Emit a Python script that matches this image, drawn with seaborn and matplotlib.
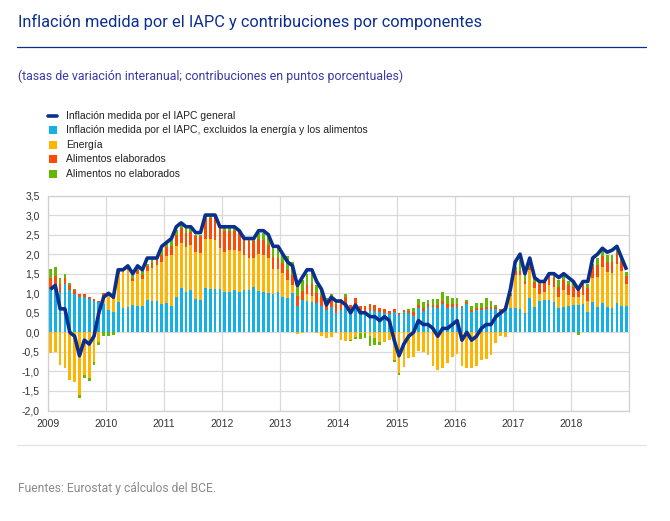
import numpy as np
import pandas as pd
import matplotlib
matplotlib.use("Agg")
import matplotlib.pyplot as plt
from matplotlib.patches import Rectangle
from matplotlib.lines import Line2D
import seaborn as sns

# ---------------- data (monthly, Jan 2009 - Dec 2018) ----------------
years = ["2009", "2010", "2011", "2012", "2013", "2014", "2015", "2016", "2017", "2018"]

headline = [
    1.1, 1.2, 0.6, 0.6, 0.0, -0.1, -0.6, -0.2, -0.3, -0.1, 0.5, 0.9,
    1.0, 0.9, 1.6, 1.6, 1.7, 1.5, 1.7, 1.6, 1.9, 1.9, 1.9, 2.2,
    2.3, 2.4, 2.7, 2.8, 2.7, 2.7, 2.55, 2.55, 3.0, 3.0, 3.0, 2.7,
    2.7, 2.7, 2.7, 2.6, 2.4, 2.4, 2.4, 2.6, 2.6, 2.5, 2.2, 2.2,
    2.0, 1.8, 1.7, 1.2, 1.4, 1.6, 1.6, 1.3, 1.1, 0.7, 0.9, 0.8,
    0.8, 0.7, 0.5, 0.7, 0.5, 0.5, 0.4, 0.4, 0.3, 0.4, 0.3, -0.2,
    -0.6, -0.3, -0.1, 0.0, 0.3, 0.2, 0.2, 0.1, -0.1, 0.1, 0.1, 0.2,
    0.3, -0.2, 0.0, -0.2, -0.1, 0.1, 0.2, 0.2, 0.4, 0.5, 0.6, 1.1,
    1.8, 2.0, 1.5, 1.9, 1.4, 1.3, 1.3, 1.5, 1.5, 1.4, 1.5, 1.4,
    1.3, 1.1, 1.3, 1.3, 1.9, 2.0, 2.15, 2.05, 2.1, 2.2, 1.9, 1.6,
]

core = [
    1.10, 1.15, 1.02, 1.23, 1.08, 0.97, 0.91, 0.91, 0.85, 0.80, 0.77, 0.72,
    0.57, 0.53, 0.78, 0.61, 0.66, 0.70, 0.67, 0.67, 0.82, 0.80, 0.80, 0.72,
    0.74, 0.68, 0.90, 1.13, 1.04, 1.08, 0.84, 0.83, 1.13, 1.12, 1.10, 1.12,
    1.04, 1.04, 1.08, 1.04, 1.08, 1.08, 1.17, 1.06, 1.02, 1.01, 0.98, 1.03,
    0.91, 0.87, 1.00, 0.67, 0.82, 0.80, 0.77, 0.75, 0.68, 0.57, 0.65, 0.50,
    0.57, 0.68, 0.53, 0.70, 0.49, 0.53, 0.55, 0.55, 0.51, 0.49, 0.46, 0.53,
    0.44, 0.51, 0.49, 0.43, 0.61, 0.55, 0.65, 0.65, 0.61, 0.72, 0.63, 0.66,
    0.66, 0.61, 0.72, 0.53, 0.57, 0.58, 0.60, 0.60, 0.60, 0.55, 0.61, 0.61,
    0.61, 0.60, 0.49, 0.87, 0.66, 0.80, 0.83, 0.83, 0.78, 0.61, 0.66, 0.67,
    0.70, 0.70, 0.72, 0.53, 0.78, 0.66, 0.76, 0.66, 0.63, 0.76, 0.68, 0.68,
]

energy = [
    -0.52, -0.50, -0.84, -0.90, -1.22, -1.26, -1.60, -1.09, -1.16, -0.75, -0.25, 0.20,
    0.36, 0.31, 0.72, 0.95, 0.93, 0.61, 0.83, 0.70, 0.75, 0.84, 0.92, 1.09,
    1.22, 1.30, 1.31, 1.16, 1.13, 1.15, 1.21, 1.19, 1.27, 1.28, 1.26, 1.03,
    1.02, 1.07, 1.03, 1.03, 0.90, 0.82, 0.74, 0.95, 0.97, 0.89, 0.65, 0.60,
    0.60, 0.47, 0.21, -0.05, -0.02, 0.18, 0.16, -0.03, -0.09, -0.15, -0.12, -0.02,
    -0.20, -0.22, -0.20, -0.12, -0.03, -0.02, -0.10, -0.15, -0.26, -0.24, -0.20, -0.71,
    -1.03, -0.88, -0.65, -0.62, -0.49, -0.51, -0.58, -0.85, -0.96, -0.92, -0.78, -0.62,
    -0.55, -0.85, -0.92, -0.92, -0.85, -0.70, -0.69, -0.58, -0.28, -0.09, -0.11, 0.31,
    0.85, 0.87, 0.74, 0.72, 0.47, 0.17, 0.21, 0.38, 0.38, 0.30, 0.43, 0.28,
    0.21, 0.21, 0.24, 0.26, 0.61, 0.76, 0.90, 0.88, 0.90, 1.00, 0.89, 0.55,
]

processed_food = [
    0.30, 0.30, 0.22, 0.15, 0.12, 0.10, 0.08, 0.07, 0.05, 0.04, 0.04, 0.08,
    0.07, 0.06, 0.06, 0.06, 0.07, 0.08, 0.09, 0.10, 0.12, 0.14, 0.13, 0.17,
    0.21, 0.24, 0.29, 0.37, 0.36, 0.33, 0.41, 0.45, 0.50, 0.52, 0.56, 0.52,
    0.53, 0.49, 0.47, 0.46, 0.43, 0.44, 0.43, 0.37, 0.38, 0.33, 0.29, 0.27,
    0.26, 0.26, 0.26, 0.26, 0.24, 0.23, 0.30, 0.25, 0.24, 0.22, 0.23, 0.23,
    0.22, 0.23, 0.18, 0.18, 0.18, 0.15, 0.18, 0.16, 0.12, 0.11, 0.09, 0.06,
    0.05, 0.05, 0.05, 0.09, 0.09, 0.07, 0.07, 0.05, 0.08, 0.09, 0.09, 0.06,
    0.06, 0.04, 0.05, 0.05, 0.06, 0.05, 0.06, 0.06, 0.04, 0.05, 0.03, 0.04,
    0.10, 0.09, 0.09, 0.09, 0.15, 0.26, 0.24, 0.23, 0.26, 0.26, 0.26, 0.27,
    0.26, 0.21, 0.26, 0.34, 0.28, 0.30, 0.28, 0.27, 0.27, 0.28, 0.24, 0.20,
]

unprocessed_food = [
    0.22, 0.22, 0.16, 0.12, 0.05, 0.03, -0.07, -0.08, -0.08, -0.08, -0.07, -0.09,
    -0.09, -0.08, 0.02, 0.02, 0.05, 0.08, 0.04, 0.10, 0.07, 0.12, 0.11, 0.15,
    0.10, 0.15, 0.12, 0.10, 0.15, 0.10, 0.04, 0.03, 0.10, 0.08, 0.06, 0.03,
    0.07, 0.07, 0.09, 0.10, 0.07, 0.10, 0.10, 0.17, 0.16, 0.21, 0.28, 0.26,
    0.26, 0.34, 0.34, 0.30, 0.28, 0.27, 0.30, 0.20, 0.18, 0.08, 0.10, 0.08,
    0.05, 0.07, -0.02, -0.05, -0.14, -0.12, -0.26, -0.17, -0.06, 0.00, 0.00, -0.05,
    -0.06, 0.02, 0.05, 0.10, 0.14, 0.15, 0.11, 0.16, 0.17, 0.22, 0.20, 0.16,
    0.15, 0.03, 0.06, 0.10, 0.11, 0.13, 0.21, 0.15, 0.06, 0.00, 0.04, 0.05,
    0.12, 0.30, 0.15, 0.09, 0.11, 0.05, 0.00, 0.03, 0.06, 0.17, 0.10, 0.09,
    0.09, -0.07, 0.04, 0.10, 0.09, 0.17, 0.13, 0.17, 0.19, 0.12, 0.08, 0.11,
]

ytick_vals = [-2.0, -1.5, -1.0, -0.5, 0.0, 0.5, 1.0, 1.5, 2.0, 2.5, 3.0, 3.5]
ytick_labels = ["-2,0", "-1,5", "-1,0", "-0,5", "0,0", "0,5", "1,0", "1,5",
                "2,0", "2,5", "3,0", "3,5"]

legend_labels = [
    "Inflación medida por el IAPC general",
    "Inflación medida por el IAPC, excluidos la energía y los alimentos",
    "Energía",
    "Alimentos elaborados",
    "Alimentos no elaborados",
]

title = "Inflación medida por el IAPC y contribuciones por componentes"
subtitle = "(tasas de variación interanual; contribuciones en puntos porcentuales)"
footer = "Fuentes: Eurostat y cálculos del BCE."

# ---------------- style ----------------
C_LINE = "#0b2f8e"
C_CORE = "#13b1e6"
C_ENERGY = "#ffb400"
C_PROC = "#ff4b00"
C_UNPROC = "#65b800"

sns.set_style("white")
plt.rcParams["font.family"] = ["Liberation Sans", "DejaVu Sans"]

W, H = 670, 521
fig = plt.figure(figsize=(W / 100, H / 100), dpi=100)


def fx(px):
    return px / W


def fy(py):
    return 1 - py / H


ax = fig.add_axes([fx(48), fy(410.5), fx(629) - fx(48), fy(195.5) - fy(410.5)])

n = len(headline)
months = np.arange(n)

layers = [(core, C_CORE), (energy, C_ENERGY), (processed_food, C_PROC),
          (unprocessed_food, C_UNPROC)]
pos_base = np.zeros(n)
neg_base = np.zeros(n)
for vals, col in layers:
    v = np.asarray(vals, dtype=float)
    bottom = np.where(v >= 0, pos_base, neg_base)
    sns.barplot(x=months, y=v, bottom=bottom, color=col, saturation=1,
                width=0.56, errorbar=None, linewidth=0, ax=ax)
    pos_base = pos_base + np.where(v >= 0, v, 0)
    neg_base = neg_base + np.where(v < 0, v, 0)

sns.lineplot(x=months, y=headline, color=C_LINE, linewidth=2.6, ax=ax,
             solid_joinstyle="round", solid_capstyle="butt", zorder=5)

ax.set_xlim(-0.5, n - 0.5)
ax.set_ylim(-2.0, 3.5)
ax.set_xticks([-0.5 + 12 * k for k in range(len(years))])
ax.set_xticklabels(years)
ax.set_yticks(ytick_vals)
ax.set_yticklabels(ytick_labels)
ax.set_xlabel("")
ax.set_ylabel("")
ax.grid(True, color="#dadada", linewidth=0.9)
ax.set_axisbelow(True)
ax.tick_params(axis="both", length=0, labelsize=7.5, colors="#333333")
ax.tick_params(axis="y", pad=6)
ax.tick_params(axis="x", pad=6)
for s in ax.spines.values():
    s.set_visible(True)
    s.set_color("#d0d0d0")
    s.set_linewidth(0.9)

# ---------------- header / legend / footer ----------------
fig.text(fx(18), fy(21.5), title, fontsize=11.8, color=C_LINE,
         family=["Roboto", "DejaVu Sans"], va="center", ha="left")
fig.add_artist(Line2D([fx(17), fx(646)], [fy(47.3), fy(47.3)], color=C_LINE,
                      linewidth=0.9, transform=fig.transFigure))
fig.text(fx(18), fy(76.5), subtitle, fontsize=8.9, color="#3a3aa6",
         family=["Roboto", "DejaVu Sans"], va="center", ha="left")

rows = [115.7, 130.0, 144.7, 159.3, 174.0]
fig.add_artist(Line2D([fx(48), fx(57)], [fy(rows[0]), fy(rows[0])], color=C_LINE,
                      linewidth=2.6, transform=fig.transFigure))
for y, c in zip(rows[1:], [C_CORE, C_ENERGY, C_PROC, C_UNPROC]):
    fig.add_artist(Rectangle((fx(48.5), fy(y + 4)), 8 / W, 8 / H, facecolor=c,
                             edgecolor="none", transform=fig.transFigure))
for y, lab in zip(rows, legend_labels):
    fig.text(fx(66), fy(y), lab, fontsize=7.5, color="#222222", va="center", ha="left")

fig.add_artist(Line2D([fx(17), fx(646)], [fy(444.5), fy(444.5)], color="#e3e3e3",
                      linewidth=0.9, transform=fig.transFigure))
fig.text(fx(18), fy(488.5), footer, fontsize=8.7, color="#8a8a8a",
         family=["Roboto", "DejaVu Sans"], va="center", ha="left")

fig.savefig("out.png", dpi=100)
